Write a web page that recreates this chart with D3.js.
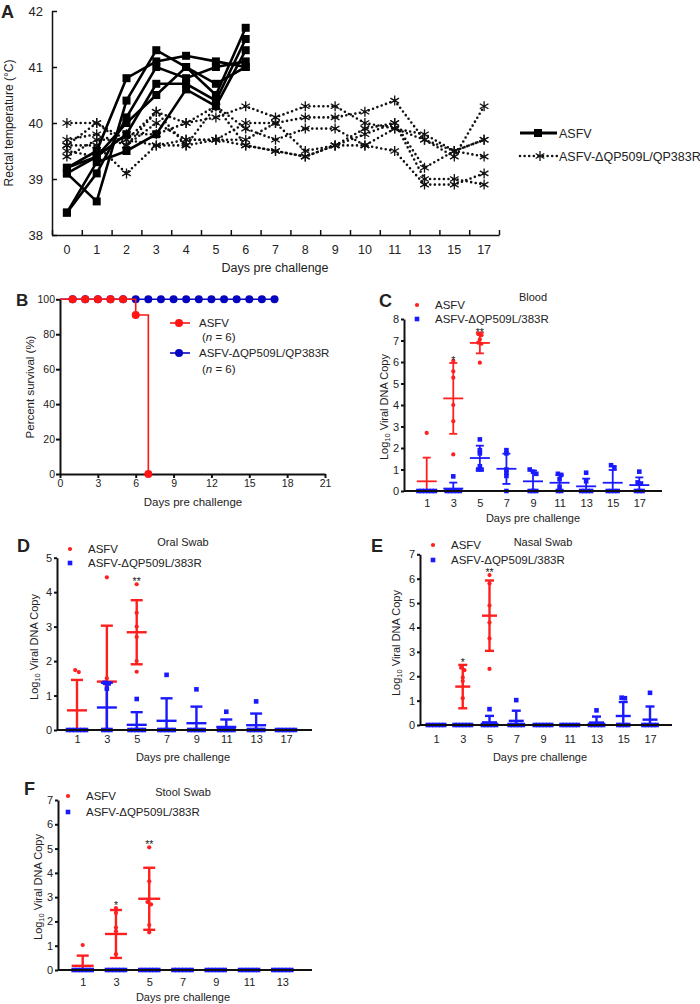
<!DOCTYPE html>
<html><head><meta charset="utf-8">
<script src="https://cdn.jsdelivr.net/npm/d3@7"></script>
<style>
body{margin:0;background:#fff}
svg{display:block}
text{font-family:"Liberation Sans",Arial,sans-serif;fill:#222}
</style>
</head><body>
<svg id="fig" width="700" height="1004"></svg>
<script>
// ---------------- DATA ----------------
// Panel A: rectal temperature
const tempDays = ["0","1","2","3","4","5","6","7","8","9","10","11","13","15","17"];
const asfvTemp = [
  [39.2,39.5,40.8,41.1,41.2,41.1,41.0],
  [39.1,38.6,40.4,41.3,41.0,40.5,41.7],
  [38.4,39.1,40.1,41.0,40.8,41.0,41.1],
  [39.2,39.4,39.8,40.7,40.7,40.4,41.5],
  [38.4,39.3,39.5,39.8,40.6,40.3,41.3],
  [39.1,39.4,40.0,40.5,41.0,40.7,41.0]
];
const mutTemp = [
  [40.0,40.0,39.7,40.2,40.0,40.1,40.3,40.1,40.3,40.3,40.0,39.9,39.8,39.5,39.7],
  [39.7,39.8,39.6,40.0,39.7,39.7,40.0,40.0,40.1,40.1,40.2,40.4,39.7,39.4,40.3],
  [39.6,39.6,39.1,39.6,39.6,39.7,39.6,39.5,39.4,39.6,39.8,40.0,39.2,39.5,39.4],
  [39.5,39.4,39.8,39.8,40.0,40.3,39.9,39.7,39.9,39.9,39.6,39.5,38.9,38.9,39.1],
  [39.4,39.7,39.7,39.6,39.7,39.7,39.7,40.0,39.5,39.6,39.9,40.0,39.0,39.0,38.9],
  [39.6,40.0,39.6,40.2,39.6,40.3,39.6,39.5,39.4,39.6,39.6,39.9,39.7,39.5,39.7]
];
const tempTicks = [38,39,40,41,42];

// Panel B: survival
const survAsfvDays = [0,1,2,3,4,5,6,7];
const survAsfvPct  = [100,100,100,100,100,100,91,0];
const survMutDays  = [0,1,2,3,4,5,6,7,8,9,10,11,12,13,14,15,16,17];
const survMutPct   = [100,100,100,100,100,100,100,100,100,100,100,100,100,100,100,100,100,100];
const survXTicks = [0,3,6,9,12,15,18,21];
const survYTicks = [0,20,40,60,80,100];

// Panel C: Blood
const bloodDays = ["1","3","5","7","9","11","13","15","17"];
const bloodAsfv = [[2.7,0,0,0,0,0],[6.05,5.57,5.27,4.0,3.25,1.7],[7.3,7.25,7.05,6.9,6.85,5.97],[],[],[],[],[],[]];
const bloodMut  = [[0,0,0,0,0,0],[0.68,0,0,0,0,0],[2.4,1.9,1.75,1.15,1.0,1.0],[1.9,1.75,1.0,0.85,0.7,0],
                   [1.0,0.9,0.8,0,0,0],[0.8,0.75,0.55,0.2,0,0],[0.85,0.45,0,0,0,0],[1.2,1.1,0,0,0,0],[0.9,0.4,0.35,0,0,0]];
const bloodStars = ["","*","**","","","","","",""];

// Panel D: Oral swab
const oralDays = ["1","3","5","7","9","11","13","17"];
const oralAsfv = [[1.74,1.68,0,0,0,0],[4.43,1.5,1.3,1.2,0,0],[4.23,3.4,3.0,2.7,2.0,1.69],[],[],[],[],[]];
const oralMut  = [[0,0,0,0,0,0],[1.37,1.35,1.2,0,0,0],[0.9,0,0,0,0,0],[1.6,0,0,0,0,0],
                  [1.18,0,0,0,0,0],[0.53,0,0,0,0,0],[0.83,0,0,0,0,0],[0,0,0,0,0,0]];
const oralStars = ["","","**","","","","",""];

// Panel E: Nasal swab
const nasalDays = ["1","3","5","7","9","11","13","15","17"];
const nasalAsfv = [[0,0,0,0,0,0],[2.35,2.25,1.95,1.8,1.1,0],[6.15,5.8,4.9,4.2,3.55,2.3],[],[],[],[],[],[]];
const nasalMut  = [[0,0,0,0,0,0],[0,0,0,0,0,0],[0.65,0,0,0,0,0],[1.02,0,0,0,0,0],[0,0,0,0,0,0],
                   [0,0,0,0,0,0],[0.6,0,0,0,0,0],[1.12,1.1,0,0,0,0],[1.32,0,0,0,0,0]];
const nasalStars = ["","*","**","","","","","",""];

// Panel F: Stool swab
const stoolDays = ["1","3","5","7","9","11","13"];
const stoolAsfv = [[1.03,0,0,0,0,0],[2.55,2.35,1.75,1.6,0.65,0],[5.05,3.65,2.8,2.7,1.85,1.55],[],[],[],[]];
const stoolMut  = [[0,0,0,0,0,0],[0,0,0,0,0,0],[0,0,0,0,0,0],[0,0,0,0,0,0],[0,0,0,0,0,0],[0,0,0,0,0,0],[0,0,0,0,0,0]];
const stoolStars = ["","*","**","","","",""];

// ---------------- DRAW ----------------
const svg = d3.select("#fig");
const RED = "#ff1f1f", BLUE = "#1a1aff";
const FONT = '"Liberation Sans",Arial,sans-serif';

function styleAxis(g, w, fs){
  g.selectAll("path,line").attr("stroke","#111").attr("stroke-width",w);
  g.selectAll("text").attr("font-size",fs).attr("fill","#222").attr("font-family",FONT);
}
function label(x,y,txt,fs,opts={}){
  const t = svg.append("text").attr("x",x).attr("y",y).attr("font-size",fs)
    .attr("text-anchor",opts.anchor||"start").text(txt);
  if(opts.bold) t.attr("font-weight","bold").attr("fill","#000");
  if(opts.rot) t.attr("transform",`rotate(-90,${x},${y})`);
  return t;
}

// ===== Panel A =====
(function(){
  const x = d3.scaleBand().domain(tempDays).range([52,499]);
  const xc = d => x(d) + x.bandwidth()/2;
  const y = d3.scaleLinear().domain([38,42]).range([235,11]);
  const xb = d3.scaleLinear().domain([0,tempDays.length]).range([52,499]);

  const ya = svg.append("g").attr("transform","translate(52,0)")
    .call(d3.axisLeft(y).tickValues(tempTicks).tickSize(-5).tickSizeOuter(0).tickPadding(9).tickFormat(d3.format("d")));
  styleAxis(ya,1.5,13);
  const xa = svg.append("g").attr("transform","translate(0,235)")
    .call(d3.axisBottom(x).tickSize(0).tickPadding(10));
  xa.select(".domain").remove();
  styleAxis(xa,1.5,12.5);
  const xt = svg.append("g").attr("transform","translate(0,235)")
    .call(d3.axisBottom(xb).tickValues(d3.range(0,tempDays.length+1)).tickSize(-5).tickSizeOuter(0).tickFormat(""));
  styleAxis(xt,1.5,12);

  label(275,271.5,"Days pre challenge",12.5,{anchor:"middle"});
  label(13,123,"Rectal temperature (°C)",12,{anchor:"middle",rot:true});
  label(1,17.5,"A",18,{bold:true});

  const line = d3.line().x((v,i)=>xc(tempDays[i])).y(v=>y(v));
  const star = d3.symbol().type(d3.symbolAsterisk).size(70);
  const sq = d3.symbol().type(d3.symbolSquare).size(64);

  mutTemp.forEach(s=>{
    svg.append("path").attr("d",line(s)).attr("fill","none").attr("stroke","#111")
      .attr("stroke-width",2.6).attr("stroke-dasharray","0,4.6").attr("stroke-linecap","round");
    svg.append("g").selectAll("path").data(s).join("path")
      .attr("transform",(v,i)=>`translate(${xc(tempDays[i])},${y(v)})`)
      .attr("d",star).attr("fill","none").attr("stroke","#111").attr("stroke-width",1.3);
  });
  asfvTemp.forEach(s=>{
    svg.append("path").attr("d",line(s)).attr("fill","none").attr("stroke","#000").attr("stroke-width",2.6);
    svg.append("g").selectAll("path").data(s).join("path")
      .attr("transform",(v,i)=>`translate(${xc(tempDays[i])},${y(v)})`)
      .attr("d",sq).attr("fill","#000");
  });

  svg.append("line").attr("x1",520).attr("x2",557).attr("y1",133).attr("y2",133).attr("stroke","#000").attr("stroke-width",3);
  svg.append("path").attr("transform","translate(538,133)").attr("d",sq).attr("fill","#000");
  label(559,137.5,"ASFV",12.5);
  svg.append("line").attr("x1",520).attr("x2",557).attr("y1",156).attr("y2",156).attr("stroke","#111")
    .attr("stroke-width",2.6).attr("stroke-dasharray","0,4.6").attr("stroke-linecap","round");
  svg.append("path").attr("transform","translate(540,156)").attr("d",star).attr("fill","none").attr("stroke","#111").attr("stroke-width",1.3);
  label(559,160.5,"ASFV-ΔQP509L/QP383R",12.5);
})();

// ===== Panel B =====
(function(){
  const x = d3.scaleLinear().domain([0,21]).range([60,325]);
  const y = d3.scaleLinear().domain([0,100]).range([474,299.3]);
  const BR = "#ff1414", BB = "#0505c0";
  const ya = svg.append("g").attr("transform","translate(60,0)")
    .call(d3.axisLeft(y).tickValues(survYTicks).tickSize(4).tickSizeOuter(0).tickPadding(1));
  styleAxis(ya,2,10.5);
  const xa = svg.append("g").attr("transform","translate(0,474)")
    .call(d3.axisBottom(x).tickValues(survXTicks).tickSize(4).tickSizeOuter(0).tickPadding(2));
  styleAxis(xa,2,10.5);
  label(193,506,"Days pre challenge",11.5,{anchor:"middle"});
  label(34,387,"Percent survival (%)",11.5,{anchor:"middle",rot:true});
  label(16,305.5,"B",17,{bold:true});

  const step = d3.line().curve(d3.curveStepAfter).x(d=>x(d[0])).y(d=>y(d[1]));
  const mutPts = survMutDays.map((d,i)=>[d,survMutPct[i]]);
  const asfPts = survAsfvDays.map((d,i)=>[d,survAsfvPct[i]]);
  svg.append("path").attr("d",step(mutPts)).attr("fill","none").attr("stroke",BB).attr("stroke-width",1.6);
  svg.append("g").selectAll("circle").data(mutPts.filter(d=>d[0]>0)).join("circle")
    .attr("cx",d=>x(d[0])).attr("cy",d=>y(d[1])).attr("r",4).attr("fill",BB);
  svg.append("path").attr("d",step(asfPts)).attr("fill","none").attr("stroke",BR).attr("stroke-width",1.6);
  svg.append("g").selectAll("circle").data(asfPts.filter(d=>d[0]>0 && d[0]<6)).join("circle")
    .attr("cx",d=>x(d[0])).attr("cy",d=>y(d[1])).attr("r",4).attr("fill",BR);
  svg.append("g").selectAll("circle").data(asfPts.filter(d=>d[0]>=6)).join("circle")
    .attr("cx",d=>x(d[0])).attr("cy",d=>y(d[1])).attr("r",4).attr("fill",BR);

  svg.append("line").attr("x1",170).attr("x2",190).attr("y1",323).attr("y2",323).attr("stroke",BR).attr("stroke-width",1.6);
  svg.append("circle").attr("cx",179).attr("cy",323).attr("r",4).attr("fill",BR);
  label(199,327,"ASFV",11.5);
  const n1 = label(202,341,"(",11.5); n1.append("tspan").attr("font-style","italic").text("n"); n1.append("tspan").text(" = 6)");
  svg.append("line").attr("x1",170).attr("x2",190).attr("y1",353).attr("y2",353).attr("stroke",BB).attr("stroke-width",1.6);
  svg.append("circle").attr("cx",179).attr("cy",353).attr("r",4).attr("fill",BB);
  label(199,357,"ASFV-ΔQP509L/QP383R",11.5);
  const n2 = label(202,373,"(",11.5); n2.append("tspan").attr("font-style","italic").text("n"); n2.append("tspan").text(" = 6)");
})();

// ===== Panels C-F =====
const panels = [
  {L:"C",title:"Blood",days:bloodDays,asfv:bloodAsfv,mut:bloodMut,stars:bloodStars,yMax:8,
   ax:404,axEnd:662,yTop:319,yBot:491,xF:426.7,xL:639.3,letter:[379,307],tXY:[533,301],
   leg:[417,305,319],ylab:[388,407],xlab:[533,522],pad:8,mw:10,cw:4,lw:1.8,sp:3.3,so:3},
  {L:"D",title:"Oral Swab",days:oralDays,asfv:oralAsfv,mut:oralMut,stars:oralStars,yMax:5,
   ax:57,axEnd:312,yTop:557.7,yBot:730,xF:77,xL:286,letter:[17,552],tXY:[183,546],
   leg:[70,549,563],ylab:[38,647],xlab:[183,761],pad:5,mw:10,cw:6,lw:2.4,sp:3.6,so:1},
  {L:"E",title:"Nasal Swab",days:nasalDays,asfv:nasalAsfv,mut:nasalMut,stars:nasalStars,yMax:7,
   ax:420,axEnd:672,yTop:554.3,yBot:725,xF:436,xL:650,letter:[371,552],tXY:[543,546],
   leg:[433,545,560],ylab:[400,643],xlab:[540,761],pad:10,mw:7.5,cw:4.5,lw:2.4,sp:3.3,so:1},
  {L:"F",title:"Stool Swab",days:stoolDays,asfv:stoolAsfv,mut:stoolMut,stars:stoolStars,yMax:7,
   ax:58,axEnd:312,yTop:800,yBot:970,xF:82.7,xL:282.3,letter:[24,795],tXY:[183,796],
   leg:[68,796,812],ylab:[42,887],xlab:[183,1001],pad:8,mw:11,cw:6,lw:2.4,sp:3.6,so:1}
];

function spread(vals, y, sp){
  const s = vals.map(v=>({v,py:y(v)})).sort((a,b)=>a.py-b.py);
  const out = []; let cl = [];
  const flush = ()=>{ cl.forEach((p,k)=>out.push({v:p.v,py:p.py,dx:(k-(cl.length-1)/2)*sp})); cl=[]; };
  s.forEach(p=>{ if(cl.length && p.py-cl[cl.length-1].py>3) flush(); cl.push(p); });
  flush();
  return out;
}

panels.forEach(p=>{
  const x = d3.scalePoint().domain(p.days).range([p.xF,p.xL]);
  const y = d3.scaleLinear().domain([0,p.yMax]).range([p.yBot,p.yTop]);
  const g = svg.append("g");
  const ya = g.append("g").attr("transform",`translate(${p.ax},0)`)
    .call(d3.axisLeft(y).ticks(p.yMax).tickSize(3).tickSizeOuter(0).tickPadding(2).tickFormat(d3.format("d")));
  styleAxis(ya,2,11);
  const xa = g.append("g").attr("transform",`translate(0,${p.yBot})`)
    .call(d3.axisBottom(x).tickSize(0).tickPadding(p.pad));
  xa.select(".domain").remove();
  styleAxis(xa,2,11);

  const groups = [{vals:p.asfv,col:RED,shape:"dot"},{vals:p.mut,col:BLUE,shape:"sq"}];
  groups.forEach(gr=>{
    p.days.forEach((d,i)=>{
      const v = gr.vals[i]; if(!v || !v.length) return;
      const cx = x(d);
      const m = d3.mean(v), s = d3.deviation(v) || 0;
      const pts = spread(v,y,p.sp);
      if(gr.shape==="dot"){
        g.append("g").selectAll("circle").data(pts).join("circle")
          .attr("cx",q=>cx+q.dx).attr("cy",q=>q.py).attr("r",2.1).attr("fill",gr.col);
      } else {
        g.append("g").selectAll("rect").data(pts).join("rect")
          .attr("x",q=>cx+q.dx-2.3).attr("y",q=>q.py-2.3).attr("width",4.6).attr("height",4.6).attr("fill",gr.col);
      }
      const top = m + s, bot = Math.max(0, m - s);
      const eb = g.append("g").attr("stroke",gr.col).attr("stroke-width",p.lw);
      if(s>0){
        eb.append("line").attr("x1",cx).attr("x2",cx).attr("y1",y(bot)).attr("y2",y(top));
        eb.append("line").attr("x1",cx-p.cw).attr("x2",cx+p.cw).attr("y1",y(top)).attr("y2",y(top));
        if(m-s>0) eb.append("line").attr("x1",cx-p.cw).attr("x2",cx+p.cw).attr("y1",y(bot)).attr("y2",y(bot));
      }
      eb.append("line").attr("x1",cx-p.mw).attr("x2",cx+p.mw).attr("y1",y(m)).attr("y2",y(m));
    });
  });
  g.append("line").attr("x1",p.ax).attr("x2",p.axEnd).attr("y1",p.yBot).attr("y2",p.yBot)
    .attr("stroke","#111").attr("stroke-width",2);

  // significance marks
  p.days.forEach((d,i)=>{
    if(!p.stars[i]) return;
    const v = p.asfv[i];
    const mx = Math.max(d3.max(v), d3.mean(v)+d3.deviation(v));
    g.append("text").attr("x",x(d)).attr("y",y(mx)+p.so).attr("text-anchor","middle")
      .attr("font-size",10.5).attr("fill","#222").text(p.stars[i]);
  });

  label(p.letter[0],p.letter[1],p.L,18,{bold:true});
  label(p.tXY[0],p.tXY[1],p.title,11,{anchor:"middle"});
  label(p.xlab[0],p.xlab[1],"Days pre challenge",11,{anchor:"middle"});
  const yl = label(p.ylab[0],p.ylab[1],"Log",11,{anchor:"middle",rot:true});
  yl.append("tspan").attr("font-size",7.5).attr("dy",2).text("10");
  yl.append("tspan").attr("dy",-2).text(" Viral DNA Copy");
  g.append("circle").attr("cx",p.leg[0]).attr("cy",p.leg[1]).attr("r",2.1).attr("fill",RED);
  g.append("rect").attr("x",p.leg[0]-2.3).attr("y",p.leg[2]-2.3).attr("width",4.6).attr("height",4.6).attr("fill",BLUE);
  label(p.leg[0]+18,p.leg[1]+4,"ASFV",11.5);
  label(p.leg[0]+18,p.leg[2]+4,"ASFV-ΔQP509L/383R",11.5);
});
</script>
</body></html>
